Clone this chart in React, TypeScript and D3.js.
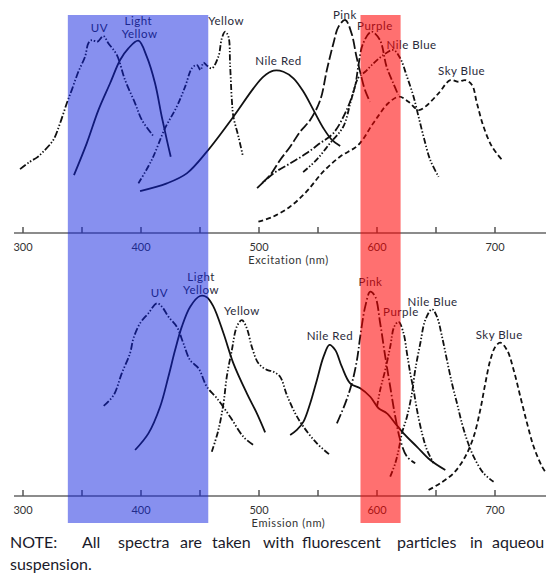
import React from "react";
import * as d3 from "d3";

type Pt = [number, number];

// ---------- Excitation spectra (wavelength nm, relative intensity %) ----------
const exUV: Pt[] = [[297.5,30.0],[305.9,33.5],[312,35.5],[317.2,38.2],[325.7,43.7],[331.4,51.5],[337.1,60.9],[341.3,67.1],[346.9,75.7],[352.6,82.8],[355.4,89.1],[358.3,90.6],[363.0,89.8],[368.1,92.5],[372.3,89.1],[379.5,83.6],[386.5,71.8],[395.0,60.9],[400.7,53.1],[410.5,45.5]];
const exLightYellow: Pt[] = [[343.2,27.2],[354.0,42.1],[363.9,57.7],[373.8,70.3],[382.3,81.2],[389.3,86.7],[397.8,90.3],[404.9,82.8],[411.9,70.3],[417.6,54.6],[421.9,43.7],[425.2,35.8]];
const exYellow: Pt[] = [[397.8,23.3],[409.1,34.3],[420.4,49.2],[430.3,59.3],[437.4,68.7],[443.1,77.3],[447.3,78.9],[450.5,76.5],[452.9,80.0],[456,78.5],[460.0,77.3],[465.6,82.8],[468.5,91.4],[471.3,94.5],[474.1,92.2],[475.5,78.9],[477.0,62.4],[478.3,54.6],[482.6,45.2],[486.3,36.2]];
const exNileRed: Pt[] = [[399.2,19.7],[421.9,23.3],[438.8,28.0],[455.8,38.2],[478.3,54.6],[495.3,67.9],[503.8,73.4],[512.3,76.2],[520.7,75.7],[529.2,72.6],[537.7,66.3],[546.2,57.7],[554.6,49.2],[561.8,43.7],[568.8,40.8]];
const exPink: Pt[] = [[502.7,23.5],[509.5,27.2],[517.9,34.3],[526.4,40.5],[534.9,47.6],[543.4,53.1],[551.9,62.4],[557.5,76.5],[563.1,89.1],[567.4,96.9],[573.1,100.0],[578.4,93.8],[582.6,82.8],[586.0,75.0],[589.8,67.1],[594.0,61.6]];
const exPurple: Pt[] = [[498.4,21.1],[512.3,28.0],[526.4,32.7],[540.2,37.4],[551.6,42.1],[562.9,46.8],[574.2,57.7],[581.3,68.7],[584.1,78.1],[588.3,89.1],[595.4,94.5],[602.5,90.6],[608.1,78.1],[613.8,70.3],[618.0,64.8]];
const exNileBlue: Pt[] = [[537.4,28.6],[548.7,34.3],[560.1,42.1],[571.4,49.9],[578.1,62.4],[584.1,72.8],[590.0,75.7],[595.7,78.9],[605.5,83.6],[614.0,85.9],[619.7,82.0],[625.4,73.4],[631.0,64.0],[635.2,54.6],[639.5,45.2],[645.1,34.3],[652.2,26.4]];
const exSkyBlue: Pt[] = [[499.5,5.3],[512.0,7.7],[526.2,12.3],[540.2,19.4],[554.4,28.8],[568.6,35.8],[584.1,41.3],[596.8,51.5],[609.5,60.9],[618.8,64.0],[626.7,61.6],[635.2,57.7],[640.9,59.3],[652.2,65.6],[662.1,71.8],[669.1,71.0],[674.8,71.8],[680.5,69.5],[684.7,60.9],[690.3,49.9],[697.5,40.5],[706.0,34.3]];

// ---------- Emission spectra ----------
const emUV: Pt[] = [[368.4,42.3],[376.9,47.4],[383.7,57.6],[390.7,67.0],[393.6,74.0],[399.2,81.1],[406.3,85.8],[413.4,90.5],[417.7,88.9],[423.2,84.2],[430.3,79.5],[435.9,71.7],[441.6,63.8],[448.7,60.0],[455.8,51.3],[464.3,45.9],[475.5,37.2],[486.8,27.8],[495.3,23.9]];
const emLightYellow: Pt[] = [[395.0,21.6],[406.3,29.4],[416.2,41.9],[423.2,56.0],[428.9,68.5],[434.6,79.5],[441.7,88.9],[450.1,93.9],[455.8,93.3],[461.4,88.9],[469.9,76.4],[478.3,62.3],[489.7,48.2],[498.2,38.8],[505.2,29.9]];
const emYellow: Pt[] = [[460.0,20.8],[465.6,31.0],[469.9,43.5],[472.7,56.0],[477.0,68.5],[481.2,79.5],[485.5,82.6],[489.7,78.7],[493.9,70.1],[499.5,62.3],[506.7,59.2],[512.0,58.4],[517.9,56.0],[523.6,47.4],[530.7,38.8],[537.7,32.5],[549.1,24.7],[560.3,19.2]];
const emNileRed: Pt[] = [[526.4,28.6],[532.1,31.0],[537.7,34.9],[543.4,43.5],[549.1,54.5],[554.7,65.4],[559.7,70.9],[564.6,68.5],[570.2,60.7],[577.3,52.9],[585.8,50.6],[594.3,46.6],[601.3,41.2],[608.4,38.8],[615.5,34.1],[622.5,29.4],[633.9,23.1],[645.1,16.9],[657.9,12.2]];
const emPink: Pt[] = [[566.0,34.1],[573.1,43.5],[578.7,52.9],[583.0,63.8],[585.8,74.8],[590.0,88.9],[594.3,95.9],[598.5,93.6],[602.7,81.1],[607.0,65.4],[611.2,51.3],[615.5,37.2],[619.7,26.3],[625.4,18.5],[632.4,15.4]];
const emPurple: Pt[] = [[600.0,41.9],[602.7,49.8],[607.0,59.2],[611.2,70.1],[614.6,79.5],[618.3,81.8],[622.5,76.4],[625.4,67.0],[628.2,57.6],[631.0,49.8],[633.9,40.4],[638.2,29.4],[642.4,21.6],[648.0,15.4]];
const emNileBlue: Pt[] = [[611.2,9.1],[615.5,15.4],[618.3,21.6],[621.1,29.4],[625.4,37.2],[629.6,48.2],[632.4,59.2],[636.7,71.7],[640.9,82.6],[646.6,87.7],[650.8,84.2],[655.1,74.8],[659.3,63.8],[663.5,52.9],[667.8,43.5],[672.0,34.1],[676.3,26.3],[681.9,18.5],[690.3,10.7],[698.8,6.7]];
const emSkyBlue: Pt[] = [[643.7,2.8],[653.6,6.0],[664.9,10.7],[674.8,18.5],[681.9,27.8],[687.5,40.4],[691.8,52.9],[696.0,63.8],[700.3,70.1],[704.5,72.0],[710.2,68.5],[715.8,59.2],[721.5,46.6],[727.2,34.1],[732.8,23.1],[739.9,13.8],[743.5,10.7]];

// ---------- Axes / bands / labels ----------
const tickValues = [300, 350, 400, 450, 500, 550, 600, 650, 700];
const tickLabels = [300, 400, 500, 600, 700];
const blueBand: [number, number] = [338, 457];
const redBand: [number, number] = [586, 620];

// label text, wavelength, intensity
const exLabels: [string, number, number][] = [
  ["UV", 364.7, 96.6], ["Light", 397.8, 99.7], ["Yellow", 398.8, 93.8], ["Yellow", 472.1, 99.7],
  ["Nile Red", 516.5, 81.2], ["Pink", 572.8, 102.8], ["Purple", 598.2, 97.2],
  ["Nile Blue", 629.3, 88.7], ["Sky Blue", 671.7, 76.1],
];
const emLabels: [string, number, number][] = [
  ["UV", 415.6, 95.6], ["Light", 450.9, 102.9], ["Yellow", 450.9, 97.0], ["Yellow", 485.5, 87.0],
  ["Nile Red", 560.1, 75.3], ["Pink", 594.5, 100.9], ["Purple", 620.3, 86.5],
  ["Nile Blue", 647.1, 91.5], ["Sky Blue", 703.6, 75.6],
];

const noteWords = ["NOTE:", "All", "spectra", "are", "taken", "with", "fluorescent", "particles", "in", "aqueou"];
const noteWordX = [10, 82, 118, 180, 212, 263, 302, 397, 470, 492];

const DASH_UV = "7,2,1.4,2,1.4,2";
const DASH_Y = "6,2,1.4,2,1.4,2";
const DASH_PINK = "10,3";
const DASH_PINK_EM = "10,2.5,1.5,2.5";
const DASH_PURPLE = "8,2.2,1.5,2.2";
const DASH_NB = "6,2,1.4,2,1.4,2";
const DASH_SKY = "5,3";

export default function App() {
  const W = 546, H = 573;
  const x = d3.scaleLinear().domain([300, 700]).range([23, 495]);
  const yTop = d3.scaleLinear().domain([0, 100]).range([233, 20]);
  const yBot = d3.scaleLinear().domain([0, 100]).range([496, 283]);

  const mk = (y: d3.ScaleLinear<number, number>) =>
    d3.line<Pt>().x((d) => x(d[0])).y((d) => y(d[1])).curve(d3.curveCatmullRom.alpha(0.5));
  const lt = mk(yTop);
  const lb = mk(yBot);

  const exSeries: [Pt[], string | null][] = [
    [exUV, DASH_UV], [exLightYellow, null], [exYellow, DASH_Y], [exNileRed, null],
    [exPink, DASH_PINK], [exPurple, DASH_PURPLE], [exNileBlue, DASH_NB], [exSkyBlue, DASH_SKY],
  ];
  const emSeries: [Pt[], string | null][] = [
    [emUV, DASH_UV], [emLightYellow, null], [emYellow, DASH_Y], [emNileRed, null],
    [emPink, DASH_PINK_EM], [emPurple, DASH_NB], [emNileBlue, DASH_NB], [emSkyBlue, DASH_SKY],
  ];

  const font = "Lato, 'Open Sans', sans-serif";

  const axis = (ay: number, title: string) => (
    <g>
      <line x1={14} x2={W} y1={ay} y2={ay} stroke="#666" strokeWidth={1.6} />
      {tickValues.map((t) => (
        <line key={t} x1={x(t)} x2={x(t)} y1={ay - 6} y2={ay} stroke="#555" strokeWidth={1.5} />
      ))}
      {tickLabels.map((t) => (
        <text key={"l" + t} x={x(t)} y={ay + 13} textAnchor="middle" dominantBaseline="central"
          fontFamily={font} fontSize={11} fill="#333">{t}</text>
      ))}
      <text x={x(525)} y={ay + 26.5} textAnchor="middle" dominantBaseline="central"
        fontFamily={font} fontSize={11} letterSpacing={0.6} fill="#333">{title}</text>
    </g>
  );

  return (
    <svg width={W} height={H} style={{ position: "absolute", left: 0, top: 0, background: "#fff" }}>
      <rect x={0} y={0} width={W} height={H} fill="#fff" />
      {exSeries.map(([d, dash], i) => (
        <path key={"ex" + i} d={lt(d) || ""} fill="none" stroke="#111" strokeWidth={1.8}
          strokeDasharray={dash || undefined} strokeLinecap="butt" />
      ))}
      {emSeries.map(([d, dash], i) => (
        <path key={"em" + i} d={lb(d) || ""} fill="none" stroke="#111" strokeWidth={1.8}
          strokeDasharray={dash || undefined} strokeLinecap="butt" />
      ))}
      {axis(233, "Excitation (nm)")}
      {axis(496, "Emission (nm)")}
      {exLabels.map(([t, w, v], i) => (
        <text key={"xl" + i} x={x(w)} y={yTop(v)} textAnchor="middle" dominantBaseline="central"
          fontFamily={font} fontSize={11.5} letterSpacing={0.5} fill="#2a2a3a">{t}</text>
      ))}
      {emLabels.map(([t, w, v], i) => (
        <text key={"el" + i} x={x(w)} y={yBot(v)} textAnchor="middle" dominantBaseline="central"
          fontFamily={font} fontSize={11.5} letterSpacing={0.5} fill="#2a2a3a">{t}</text>
      ))}
      <rect x={x(blueBand[0])} width={x(blueBand[1]) - x(blueBand[0])} y={15} height={508}
        fill="rgb(15,33,224)" fillOpacity={0.5} />
      <rect x={x(redBand[0])} width={x(redBand[1]) - x(redBand[0])} y={15} height={508}
        fill="rgb(255,0,0)" fillOpacity={0.56} />
      {noteWords.map((w, i) => (
        <text key={"n" + i} x={noteWordX[i]} y={548} fontFamily={font} fontSize={16} fill="#1a1a2a">{w}</text>
      ))}
      <text x={10} y={570} fontFamily={font} fontSize={16} fill="#1a1a2a">suspension.</text>
    </svg>
  );
}
